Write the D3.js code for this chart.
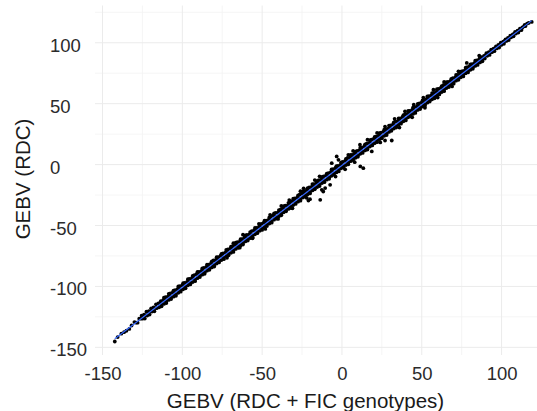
<!DOCTYPE html>
<html>
<head>
<meta charset="utf-8">
<script src="https://cdn.jsdelivr.net/npm/d3@7"></script>
<style>
  body { margin: 0; background: #fff; }
  svg { display: block; font-family: "Liberation Sans", Arial, sans-serif; }
</style>
</head>
<body>
<svg></svg>
<script>
// GEBV (RDC + FIC genotypes) vs GEBV (RDC)
const bandPoints = [
  [-142.3,-145.2],[-140.5,-141.6],[-138.2,-138.8],[-136.5,-137.6],[-135,-136.4],[-133.2,-134.9],[-131.8,-132.1],
  // upper side of the band
  [-130,-129.3],[-127,-126.5],[-124,-123.2],[-121,-120.4],[-118,-117.3],[-115,-113.9],[-112,-111.2],[-109,-108.4],
  [-106,-104.9],[-103,-102.3],[-100,-99.0],[-97,-96.3],[-94,-93.2],[-91,-89.8],[-88,-87.3],[-85,-84.0],
  [-82,-80.9],[-79,-78.3],[-76,-74.8],[-73,-72.2],[-70,-69.0],[-67,-65.8],[-64,-63.2],[-61,-59.7],
  [-58,-57.3],[-55,-53.9],[-52,-51.2],[-49,-47.7],[-46,-45.3],[-43,-41.8],[-40,-39.2],[-37,-35.8],
  [-34,-33.4],[-31,-29.7],[-28,-27.2],[-25,-23.9],[-22,-20.8],[-19,-18.3],[-16,-14.8],[-13,-12.3],
  [-10,-8.9],[-7,-6.2],[-4,-2.8],[-1,-0.3],[2,3.1],[5,5.7],[8,9.2],[11,11.8],[14,15.1],[17,17.7],
  [20,21.2],[23,23.8],[26,27.1],[29,29.6],[32,33.0],[35,35.7],[38,39.1],[41,41.6],[44,45.0],[47,47.6],
  [50,51.1],[53,53.7],[56,56.9],[59,59.6],[62,62.9],[65,65.6],[68,68.8],[71,71.5],[74,74.8],[77,77.4],
  [80,80.7],[83,83.3],[86,86.6],[89,89.2],[92,92.4],[95,95.1],[98,98.3],[101,100.9],[104,104.1],
  [107,106.8],[110,110.0],[113,112.6],[116,115.8],
  [-125.5,-124.1],[-122.5,-120.8],[-119.5,-118.0],[-116.5,-114.7],[-113.5,-112.1],[-110.5,-108.8],
  [-107.5,-105.7],[-104.5,-103.0],[-101.5,-99.8],[-98.5,-97.1],[-95.5,-93.8],[-92.5,-90.7],[-89.5,-88.0],
  [-86.5,-84.8],[-83.5,-82.1],[-80.5,-78.7],[-77.5,-76.0],[-74.5,-72.8],[-71.5,-69.6],[-68.5,-67.0],
  [-65.5,-63.7],[-62.5,-61.1],[-59.5,-57.8],[-56.5,-54.6],[-53.5,-52.0],[-50.5,-48.7],[-47.5,-46.0],
  [-44.5,-42.8],[-41.5,-39.6],[-38.5,-37.0],[-35.5,-33.7],[-32.5,-31.0],[-29.5,-27.8],[-26.5,-24.6],
  [-23.5,-22.0],[-20.5,-18.7],[-17.5,-16.1],[-14.5,-12.8],[-11.5,-9.6],[-8.5,-7.0],[-5.5,-3.7],
  [-2.5,-1.0],[0.5,2.2],[3.5,5.4],[6.5,8.0],[9.5,11.3],[12.5,14.0],[15.5,17.2],[18.5,20.4],[21.5,23.0],
  [24.5,26.3],[27.5,29.0],[30.5,32.2],[33.5,35.4],[36.5,38.0],[39.5,41.3],[42.5,44.0],[45.5,47.2],
  [48.5,50.3],[51.5,53.0],[54.5,56.2],[57.5,58.9],[60.5,62.1],[63.5,65.2],[66.5,67.8],[69.5,71.0],
  [72.5,73.7],[75.5,76.8],[78.5,79.9],[81.5,82.5],[84.5,85.6],[87.5,88.3],[90.5,91.4],[93.5,94.4],
  [96.5,97.0],[99.5,100.1],[102.5,102.8],[105.5,105.9],[108.5,109.0],[111.5,111.6],[114.5,114.7],
  // outer upper edge
  [-111.5,-109.3],[-108.5,-106.1],[-105.5,-103.4],[-102.5,-100.0],[-99.5,-97.3],[-96.5,-94.1],[-93.5,-91.4],
  [-90.5,-88.0],[-87.5,-85.3],[-84.5,-82.1],[-81.5,-79.4],[-78.5,-76.0],[-75.5,-73.3],[-72.5,-70.1],
  [-69.5,-67.4],[-66.5,-64.0],[-63.5,-61.3],[-60.5,-58.1],[-57.5,-55.4],[-54.5,-52.0],[-51.5,-49.3],
  [-48.5,-46.1],[-45.5,-43.4],[-42.5,-40.0],[-39.5,-37.3],[-36.5,-34.1],[-33.5,-31.4],[-30.5,-28.0],
  [-27.5,-25.3],[-24.5,-22.1],[-21.5,-19.4],[-18.5,-16.0],[-15.5,-13.3],[-12.5,-10.1],[-9.5,-7.4],
  [-6.5,-4.0],[-3.5,-1.3],[-0.5,1.9],[2.5,4.6],[5.5,8.0],[8.5,10.7],[11.5,13.9],[14.5,16.6],[17.5,20.0],
  [20.5,22.7],[23.5,25.9],[26.5,28.6],[29.5,32.0],[32.5,34.7],[35.5,37.9],[38.5,40.6],[41.5,44.0],
  [44.5,46.7],[47.5,49.9],[50.5,52.6],[53.5,56.0],[56.5,58.7],[59.5,61.9],[62.5,64.4],[65.5,67.7],
  [68.5,70.4],[71.5,73.6],[74.5,76.2],[77.5,79.5],[80.5,82.2],[83.5,85.3],[86.5,88.0],
  // middle of the band
  [-129,-129.8],[-126,-126.4],[-123,-123.7],[-120,-120.5],[-117,-117.8],[-114,-114.4],[-111,-111.7],
  [-108,-108.5],[-105,-105.8],[-102,-102.4],[-99,-99.7],[-96,-96.5],[-93,-93.8],[-90,-90.4],[-87,-87.7],
  [-84,-84.5],[-81,-81.8],[-78,-78.4],[-75,-75.7],[-72,-72.5],[-69,-69.8],[-66,-66.3],[-63,-63.7],
  [-60,-60.5],[-57,-57.8],[-54,-54.4],[-51,-51.7],[-48,-48.5],[-45,-45.8],[-42,-42.4],[-39,-39.7],
  [-36,-36.5],[-33,-33.8],[-30,-30.4],[-27,-27.7],[-24,-24.5],[-21,-21.8],[-18,-18.4],[-15,-15.7],
  [-12,-12.5],[-9,-9.8],[-6,-6.4],[-3,-3.7],[0,-0.5],[3,2.2],[6,5.6],[9,8.3],[12,11.5],[15,14.2],
  [18,17.6],[21,20.3],[24,23.5],[27,26.2],[30,29.6],[33,32.3],[36,35.5],[39,38.2],[42,41.6],[45,44.3],
  [48,47.5],[51,50.2],[54,53.6],[57,56.3],[60,59.5],[63,62.2],[66,65.6],[69,68.3],[72,71.5],[75,74.2],
  [78,77.6],[81,80.3],[84,83.5],[87,86.2],[90,89.6],[93,92.3],[96,95.5],[99,98.2],[102,101.5],
  [105,104.2],[108,107.5],[111,110.2],[114,113.4],[117,116.3],[118.9,117.1],
  // lower side of the band
  [-128,-129.8],[-125,-126.5],[-122,-123.9],[-119,-120.6],[-116,-117.9],[-113,-114.7],[-110,-112.0],
  [-107,-108.8],[-104,-106.3],[-101,-102.9],[-98,-100.3],[-95,-97.0],[-92,-94.4],[-89,-91.0],[-86,-88.3],
  [-83,-85.0],[-80,-82.4],[-77,-79.1],[-74,-76.3],[-71,-73.0],[-68,-70.4],[-65,-67.1],[-62,-64.3],
  [-59,-61.0],[-56,-58.4],[-53,-55.1],[-50,-52.3],[-47,-49.0],[-44,-46.4],[-41,-43.1],[-38,-40.3],
  [-35,-37.0],[-32,-34.4],[-29,-31.1],[-26,-28.3],[-23,-25.0],[-20,-22.4],[-17,-19.1],[-14,-16.3],
  [-11,-13.0],[-8,-10.4],[-5,-7.1],[-2,-4.3],[1,-1.0],[4,1.6],[7,4.9],[10,7.7],[13,10.9],[16,13.6],
  [19,16.9],[22,19.7],[25,22.9],[28,25.6],[31,28.9],[34,31.7],[37,34.9],[40,37.6],[43,40.9],[46,43.7],
  [49,46.9],[52,49.6],[55,52.9],[58,55.7],[61,58.9],[64,61.8],[67,65.0],[70,67.8],[73,71.1],[76,73.9],
  [79,77.1],[82,80.0],[85,83.2],[88,86.1],[91,89.3],[94,92.3],[97,95.4],[100,98.4],[103,101.5],
  [106,104.5],[109,107.6],[112,110.6],[115,113.7],
  [-123.5,-126.4],[-120.5,-123.1],[-117.5,-120.4],[-114.5,-117.2],[-111.5,-114.4],[-108.5,-111.1],
  [-105.5,-108.4],[-102.5,-105.2],[-99.5,-102.4],[-96.5,-99.1],[-93.5,-96.4],[-90.5,-93.2],[-87.5,-90.4],
  [-84.5,-87.1],[-81.5,-84.4],[-78.5,-81.2],[-75.5,-78.4],[-72.5,-75.1],[-69.5,-72.4],[-66.5,-69.2],
  [-63.5,-66.4],[-60.5,-63.1],[-57.5,-60.4],[-54.5,-57.2],[-51.5,-54.4],[-48.5,-51.1],[-45.5,-48.4],
  [-42.5,-45.2],[-39.5,-42.4],[-36.5,-39.1],[-33.5,-36.4],[-30.5,-33.2],[-27.5,-30.4],[-24.5,-27.1],
  [-21.5,-24.4],[-18.5,-21.2],[-15.5,-18.4],[-12.5,-15.1],[-9.5,-12.4],[-6.5,-9.2],[-3.5,-6.4],
  [-0.5,-3.1],[2.5,-0.4],[5.5,2.8],[8.5,5.6],[11.5,8.9],[14.5,11.6],[17.5,14.8],[20.5,17.6],[23.5,20.9],
  [26.5,23.6],[29.5,26.8],[32.5,29.6],[35.5,32.9],[38.5,35.6],[41.5,38.8],[44.5,41.6],[47.5,44.9],
  [50.5,47.6],[53.5,50.8],[56.5,53.6],[59.5,56.9],[62.5,59.6],[65.5,62.8],[68.5,65.6],[71.5,68.9],
  [74.5,71.7],[77.5,74.9],[80.5,77.8],[83.5,81.0],[86.5,83.9],[89.5,87.0],[92.5,90.0],[95.5,93.1],
  [98.5,96.1],[101.5,99.2],[104.5,102.2],[107.5,105.3],[110.5,108.4],[112.5,110.5],
  // outer lower edge
  [-113,-116.3],[-110,-113.6],[-107,-110.4],[-104,-107.7],[-101,-104.3],[-98,-101.6],[-95,-98.4],
  [-92,-95.7],[-89,-92.3],[-86,-89.6],[-83,-86.4],[-80,-83.7],[-77,-80.3],[-74,-77.6],[-71,-74.4],
  [-68,-71.7],[-65,-68.3],[-62,-65.6],[-59,-62.4],[-56,-59.7],[-53,-56.3],[-50,-53.6],[-47,-50.4],
  [-44,-47.7],[-41,-44.3],[-38,-41.6],[-35,-38.4],[-32,-35.7],[-29,-32.3],[-26,-29.6],[-23,-26.4],
  [-20,-23.7],[-17,-20.3],[-14,-17.6],[-11,-14.4],[-8,-11.7],[-5,-8.3],[-2,-5.6],[1,-2.4],[4,0.3],
  [7,3.7],[10,6.4],[13,9.6],[16,12.3],[19,15.7],[22,18.4],[25,21.6],[28,24.3],[31,27.7],[34,30.4],
  [37,33.6],[40,36.3],[43,39.7],[46,42.4],[49,45.6],[52,48.3],[55,51.7],[58,54.4],[61,57.6],[64,60.3],
  [67,63.7],[70,66.4],[73,69.6],[76,72.4],[79,75.7],[82,78.6],[85,81.8],[88,84.8]
];

// points sitting away from the band
const scatterAbove = [
  [-68,-64.5],[-62,-57.5],[-52,-48.6],[-45,-41.2],[-38,-34.0],[-33,-29.1],[-26,-21.8],[-24,-19.5],
  [-17,-12.7],[-14,-9.6],[-6.4,1.2],[-3.3,6.7],[-2.2,3.9],[4,8.0],[7,11.2],[11.3,16.3],[16,20.4],
  [22,26.0],[27,31.2],[33,37.6],[39.5,43.7],[45,49.2],[51,55.0],[57.3,61.5],[64,67.8],[73,76.6],
  [78.2,83.5],[86,89.5]
];
const scatterBelow = [
  [-72,-76.5],[-64,-68.2],[-56,-60.5],[-48,-52.8],[-40,-44.6],[-31,-35.9],[-22,-27.4],[-20,-28.4],
  [-21,-29.5],[-13.6,-28.9],[-12.6,-20.7],[-10.5,-19.3],[-11.7,-22.1],[-7.4,-16.6],[-4,-9.8],[2,-3.9],
  [11.5,-1.5],[13.4,-2.9],[18.7,10.8],[8,2.0],[24,18.2],[27,19.8],[31.2,19.8],[36,30.4],[44,38.8],
  [52,46.6],[60,55.0],[69,64.2]
];

const xTicks = [-150, -100, -50, 0, 50, 100];
const yTicks = [-150, -100, -50, 0, 50, 100];
const xMinor = [-125, -75, -25, 25, 75];
const yMinor = [-125, -75, -25, 25, 75, 125];
const xLabel = 'GEBV (RDC + FIC genotypes)';
const yLabel = 'GEBV (RDC)';

const W = 537, H = 411;
const panel = { left: 95, right: 537, top: 5.5, bottom: 355 };

const svg = d3.select('svg').attr('width', W).attr('height', H);

const x = d3.scaleLinear().domain([-154.7, 122.2]).range([panel.left, panel.right]);
const y = d3.scaleLinear().domain([-156.3, 130.6]).range([panel.bottom, panel.top]);

const grid = svg.append('g');
grid.selectAll('.vminor').data(xMinor).enter().append('line')
  .attr('x1', d => x(d)).attr('x2', d => x(d))
  .attr('y1', panel.top).attr('y2', panel.bottom)
  .attr('stroke', '#f3f3f3').attr('stroke-width', 0.8);
grid.selectAll('.hminor').data(yMinor).enter().append('line')
  .attr('y1', d => y(d)).attr('y2', d => y(d))
  .attr('x1', panel.left).attr('x2', panel.right)
  .attr('stroke', '#f3f3f3').attr('stroke-width', 0.8);
grid.selectAll('.vmajor').data(xTicks).enter().append('line')
  .attr('x1', d => x(d)).attr('x2', d => x(d))
  .attr('y1', panel.top).attr('y2', panel.bottom)
  .attr('stroke', '#ebebeb').attr('stroke-width', 1);
grid.selectAll('.hmajor').data(yTicks).enter().append('line')
  .attr('y1', d => y(d)).attr('y2', d => y(d))
  .attr('x1', panel.left).attr('x2', panel.right)
  .attr('stroke', '#ebebeb').attr('stroke-width', 1);

const allPoints = bandPoints.concat(scatterAbove, scatterBelow);

svg.append('g').selectAll('circle')
  .data(allPoints)
  .enter()
  .append('circle')
  .attr('cx', d => x(d[0]))
  .attr('cy', d => y(d[1]))
  .attr('r', 1.9)
  .attr('fill', '#000');

// least squares fit, like geom_smooth(method = "lm")
const mx = d3.mean(allPoints, d => d[0]);
const my = d3.mean(allPoints, d => d[1]);
const slope = d3.sum(allPoints, d => (d[0] - mx) * (d[1] - my)) / d3.sum(allPoints, d => (d[0] - mx) ** 2);
const intercept = my - slope * mx;
const xExt = d3.extent(allPoints, d => d[0]);

svg.append('path')
  .datum(xExt.map(v => [v, intercept + slope * v]))
  .attr('d', d3.line().x(d => x(d[0])).y(d => y(d[1])))
  .attr('stroke', '#3366FF')
  .attr('stroke-width', 1.1)
  .attr('fill', 'none');

// tick labels (plain hyphen for negatives, as in the original)
const xAxis = svg.append('g')
  .attr('transform', `translate(0, ${panel.bottom})`)
  .call(d3.axisBottom(x).tickValues(xTicks).tickFormat(d => String(d)).tickSize(0).tickPadding(0));
xAxis.select('.domain').remove();
xAxis.selectAll('text')
  .attr('y', 25).attr('dy', null)
  .style('font-size', '18.5px')
  .style('font-family', '"Liberation Sans", Arial, sans-serif')
  .attr('fill', '#2b2b2b');

const yAxis = svg.append('g')
  .call(d3.axisLeft(y).tickValues(yTicks).tickFormat(d => String(d)).tickSize(0));
yAxis.select('.domain').remove();
yAxis.selectAll('text')
  .attr('x', 50).attr('dy', '8.5')
  .attr('text-anchor', 'start')
  .style('font-size', '18.5px')
  .style('font-family', '"Liberation Sans", Arial, sans-serif')
  .attr('fill', '#2b2b2b');

// axis titles
svg.append('text')
  .attr('x', 305.5).attr('y', 408)
  .attr('text-anchor', 'middle')
  .style('font-size', '20.5px')
  .attr('fill', '#1a1a1a')
  .text(xLabel);

svg.append('text')
  .attr('transform', 'translate(29.7, 179) rotate(-90)')
  .attr('text-anchor', 'middle')
  .style('font-size', '20.5px')
  .attr('fill', '#1a1a1a')
  .text(yLabel);
</script>
</body>
</html>
